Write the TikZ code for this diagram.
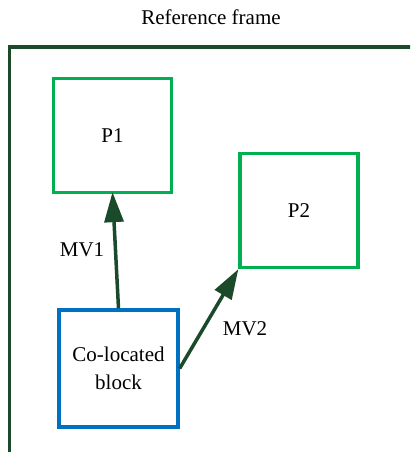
\documentclass[tikz,border=0pt]{standalone}
\usepackage{fontspec}
\setmainfont{Liberation Serif}
\usetikzlibrary{arrows.meta}
\definecolor{frameg}{HTML}{1B4A2B}
\definecolor{boxg}{HTML}{00B050}
\definecolor{boxb}{HTML}{0070C0}
\tikzset{
  pbox/.style={draw=boxg, line width=3.3pt, minimum width=118pt, minimum height=114pt, inner sep=0pt},
  bbox/.style={draw=boxb, line width=3.3pt, minimum width=119pt, minimum height=117pt, inner sep=0pt, align=center},
  mv/.style={draw=frameg, line width=3.5pt, -{Triangle[length=30pt,width=19pt]}},
  lbl/.style={inner sep=0pt},
}
\begin{document}
\begin{tikzpicture}[x=1pt,y=-1pt,font=\fontsize{21}{28}\selectfont]
\useasboundingbox (0,0) rectangle (410,452);
\clip (0,0) rectangle (410,452);
\fill[white] (0,0) rectangle (410,452);
\node[lbl] (title) at (211,17) {Reference frame};
\draw[frameg, line width=3.8pt] (9.5,470) -- (9.5,47) -- (430,47);
\node[pbox] (P1) at (112.5,135.5) {P1};
\node[pbox] (P2) at (299,210.5) {P2};
\node[bbox] (B) at (118.5,368.5) {Co-located\\block};
\draw[mv] (B.north) -- ([yshift=2pt]P1.south);
\draw[mv] (B.east) -- (P2.south west);
\node[lbl] (mv1) at (82,250) {MV1};
\node[lbl] (mv2) at (245,329) {MV2};
\end{tikzpicture}
\end{document}
